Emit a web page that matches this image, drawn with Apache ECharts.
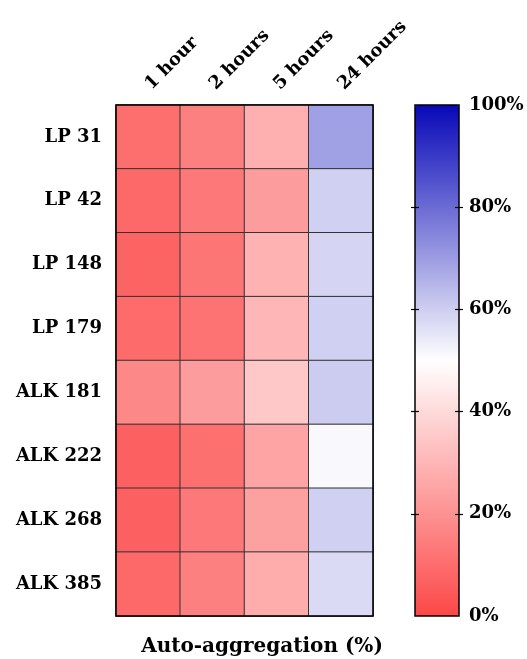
<!DOCTYPE html>
<html>
<head>
<meta charset="utf-8">
<script src="https://cdn.jsdelivr.net/npm/echarts@6/dist/echarts.min.js"></script>
<style>
html,body{margin:0;padding:0;background:#fff;}
#chart{width:527px;height:659px;}
</style>
</head>
<body>
<div id="chart"></div>
<script>
var timePoints = ['1 hour', '2 hours', '5 hours', '24 hours'];
var strains = ['LP 31', 'LP 42', 'LP 148', 'LP 179', 'ALK 181', 'ALK 222', 'ALK 268', 'ALK 385'];
var agg1h  = [10.7, 8.7, 7.7, 9.6, 17.5, 6.6, 6.6, 8.7];
var agg2h  = [15.3, 13.1, 12.6, 11.5, 23.0, 10.9, 13.1, 15.3];
var agg5h  = [28.4, 23.0, 29.0, 30.0, 35.0, 25.0, 24.0, 27.3];
var agg24h = [69.2, 59.5, 58.5, 59.5, 60.3, 51.4, 59.5, 57.5];
var colorTicks = [0, 20, 40, 60, 80, 100];
var innerTicks = [20, 40, 60, 80];

var columns = [agg1h, agg2h, agg5h, agg24h];
var data = [];
columns.forEach(function (col, ci) {
  col.forEach(function (v, ri) { data.push([ci, ri, v]); });
});

var FONT = 'DejaVu Serif';
var chart = echarts.init(document.getElementById('chart'), null, {renderer: 'canvas'});
var tickAxis = function (position, gridIndex) {
  return {
    type: 'value', gridIndex: gridIndex, min: 0, max: 100, interval: 20,
    position: position, offset: -4, z: 30,
    axisLine: {show: false, onZero: false},
    splitLine: {show: false},
    axisTick: {show: true, inside: false, length: 8, lineStyle: {color: '#000', width: 1.2},
      customValues: innerTicks},
    axisLabel: {show: false}
  };
};
var cbBox = {left: 415, top: 105, width: 44, height: 511};
chart.setOption({
  backgroundColor: '#fff',
  animation: false,
  title: {
    text: 'Auto-aggregation (%)',
    left: 257, top: 632, textAlign: 'center',
    textStyle: {fontFamily: FONT, fontWeight: 'bold', fontSize: 20, color: '#000'}
  },
  grid: [
    {left: 116, top: 105, width: 257, height: 511, show: true, borderColor: '#000', borderWidth: 1.5,
      backgroundColor: 'transparent', z: 10},
    Object.assign({show: true, borderColor: '#000', borderWidth: 1.5, backgroundColor: 'transparent', z: 10}, cbBox),
    Object.assign({show: false}, cbBox),
    Object.assign({show: false}, cbBox)
  ],
  xAxis: [
    {type: 'category', data: timePoints, position: 'top', gridIndex: 0,
      axisLine: {show: false}, axisTick: {show: false}, splitLine: {show: false},
      axisLabel: {rotate: -45, margin: 18, color: '#000', fontFamily: FONT, fontWeight: 'bold', fontSize: 18}},
    {type: 'category', gridIndex: 1, show: false, data: ['']},
    {type: 'category', gridIndex: 2, show: false, data: ['']},
    {type: 'category', gridIndex: 3, show: false, data: ['']}
  ],
  yAxis: [
    {type: 'category', data: strains, inverse: true, gridIndex: 0,
      axisLine: {show: false}, axisTick: {show: false}, splitLine: {show: false},
      axisLabel: {margin: 14, color: '#000', fontFamily: FONT, fontWeight: 'bold', fontSize: 18}},
    tickAxis('left', 1),
    tickAxis('right', 2),
    {type: 'value', gridIndex: 3, min: 0, max: 100, interval: 20, position: 'right',
      axisLine: {show: false, onZero: false}, axisTick: {show: false}, splitLine: {show: false},
      axisLabel: {margin: 10, color: '#000', fontFamily: FONT, fontWeight: 'bold', fontSize: 18,
        customValues: colorTicks, formatter: '{value}%'}}
  ],
  visualMap: {
    type: 'continuous', min: 0, max: 100, seriesIndex: 0,
    orient: 'vertical', left: 415, top: 105, itemWidth: 44, itemHeight: 511,
    padding: 0, calculable: false, realtime: false, text: null, showLabel: false,
    inRange: {color: ['#fc4848', '#ffffff', '#0808b8']}
  },
  series: [{
    type: 'heatmap', xAxisIndex: 0, yAxisIndex: 0, data: data,
    itemStyle: {borderColor: '#333', borderWidth: 1},
    label: {show: false}
  }]
});
</script>
</body>
</html>
